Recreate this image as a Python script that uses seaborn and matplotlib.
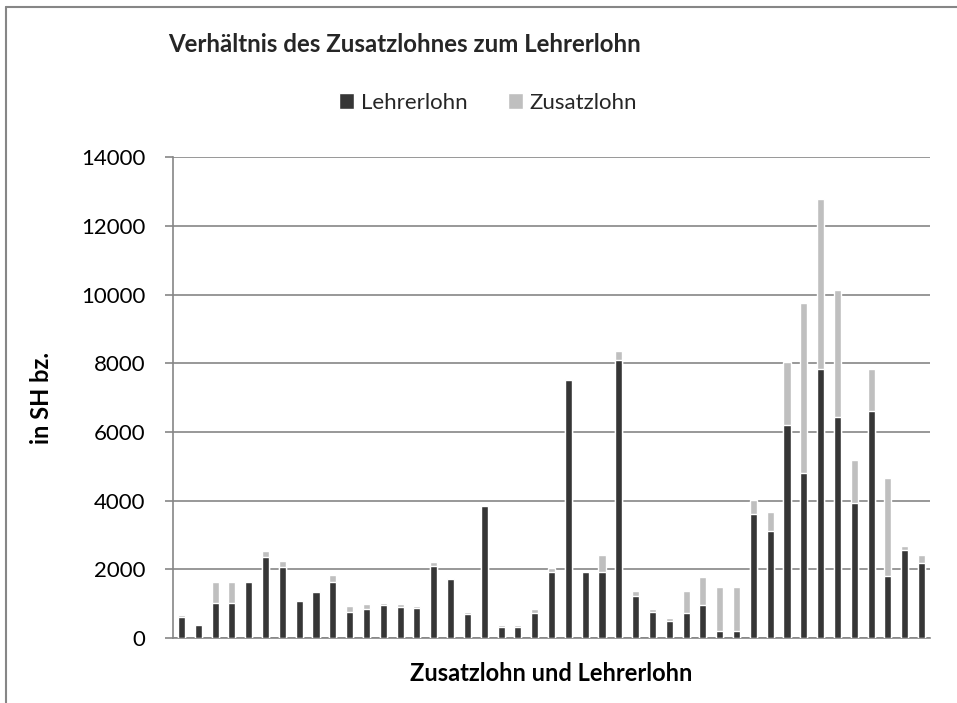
import pandas as pd
import matplotlib
matplotlib.use("Agg")
import matplotlib.pyplot as plt
from matplotlib.patches import Patch
from matplotlib.lines import Line2D
import seaborn as sns

# Lehrerlohn und Zusatzlohn je Eintrag (in SH bz.)
lehrerlohn = [600, 370, 1020, 1020, 1640, 2370, 2080, 1070, 1350, 1640,
              760, 850, 950, 910, 880, 2100, 1730, 700, 3830, 330,
              330, 740, 1930, 7510, 1910, 1910, 8090, 1210, 770, 490,
              720, 950, 190, 190, 3600, 3110, 6190, 4800, 7830, 6430,
              3940, 6610, 1810, 2560, 2190]
zusatzlohn = [70, 40, 610, 610, 10, 170, 170, 40, 10, 190,
              180, 130, 70, 80, 50, 120, 10, 60, 50, 60,
              60, 100, 100, 30, 30, 520, 270, 170, 80, 90,
              660, 840, 1300, 1300, 420, 550, 1860, 4950, 4970, 3700,
              1250, 1220, 2860, 130, 220]
y_ticks = [0, 2000, 4000, 6000, 8000, 10000, 12000, 14000]

DARK = "#363636"
LIGHT = "#bfbfbf"
GRID = "#868686"

sns.set_theme(style="white")
plt.rcParams["font.family"] = ["Lato", "DejaVu Sans"]

df = pd.DataFrame({
    "nr": list(range(1, len(lehrerlohn) + 1)),
    "Lehrerlohn": lehrerlohn,
    "Zusatzlohn": zusatzlohn,
})
df["gesamt"] = df["Lehrerlohn"] + df["Zusatzlohn"]

fig = plt.figure(figsize=(9.57, 7.03), dpi=100)
ax = fig.add_axes([0.1808, 0.0925, 0.7910, 0.6837])

# stacked: total in light grey, teacher wage in dark on top
sns.barplot(data=df, x="nr", y="gesamt", color=LIGHT, width=0.42,
            saturation=1, ax=ax, zorder=3)
sns.barplot(data=df, x="nr", y="Lehrerlohn", color=DARK, width=0.42,
            saturation=1, ax=ax, zorder=4)

ax.set_ylim(0, 14000)
ax.set_xlim(-0.5, len(df) - 0.5)
ax.set_yticks(y_ticks)
ax.set_yticklabels([str(t) for t in y_ticks], fontsize=16)
ax.set_xticks([])
ax.yaxis.grid(True, color=GRID, linewidth=1.2, zorder=0)
ax.set_axisbelow(True)
for s in ["top", "right"]:
    ax.spines[s].set_visible(False)
for s in ["left", "bottom"]:
    ax.spines[s].set_color(GRID)
    ax.spines[s].set_linewidth(1.2)
ax.tick_params(axis="y", left=True, length=6, width=1.2, color=GRID,
               pad=14, labelcolor="black")

ax.set_ylabel("in SH bz.", fontsize=17, fontweight="bold", color="black")
ax.yaxis.set_label_coords(-0.158, 0.5)
ax.set_xlabel("Zusatzlohn und Lehrerlohn", fontsize=17, fontweight="bold",
              color="black")
ax.xaxis.set_label_coords(0.5, -0.05)

fig.text(405 / 957, 1 - 45 / 703, "Verhältnis des Zusatzlohnes zum Lehrerlohn",
         ha="center", va="center", fontsize=17.3, fontweight="bold")

handles = [Patch(facecolor=DARK, label="Lehrerlohn"),
           Patch(facecolor=LIGHT, label="Zusatzlohn")]
fig.legend(handles=handles, loc="center", bbox_to_anchor=(488 / 957, 1 - 103 / 703),
           ncol=2, frameon=False, fontsize=16, handlelength=0.7,
           handleheight=0.7, handletextpad=0.3, columnspacing=1.8)

# outer chart frame (left and top edges visible)
fig.add_artist(Line2D([6 / 957, 1], [1 - 7 / 703] * 2, color=GRID, linewidth=1.5))
fig.add_artist(Line2D([6 / 957] * 2, [0, 1 - 7 / 703], color=GRID, linewidth=1.5))

fig.savefig("out.png", dpi=100)
